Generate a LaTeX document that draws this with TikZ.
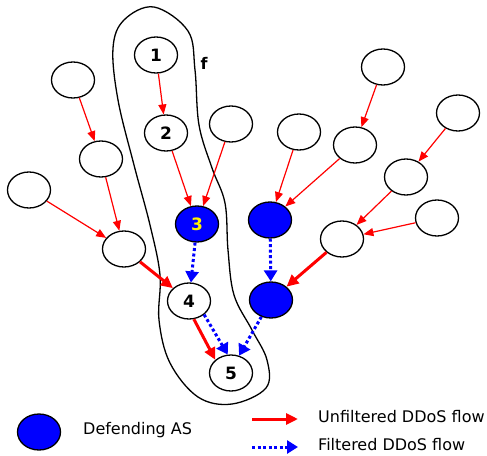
\documentclass[tikz,border=0pt]{standalone}
\usepackage{fontspec}
\setmainfont{DejaVu Sans}
\usetikzlibrary{shapes.geometric,arrows.meta}
\begin{document}
\begin{tikzpicture}[x=1pt,y=-1pt,
  as/.style={draw=black,line width=1.3pt,ellipse,inner sep=0pt,minimum width=43pt,minimum height=36pt,fill=white,font=\fontsize{17}{17}\selectfont\bfseries},
  defas/.style={as,fill=blue},
  redthin/.style={draw=red,line width=1.2pt,-{Triangle[length=10pt,width=8pt]}},
  redthick/.style={draw=red,line width=3pt,-{Triangle[length=12pt,width=11pt]}},
  bluedot/.style={draw=blue,line width=3pt,dash pattern=on 3pt off 2.5pt,-{Triangle[length=11pt,width=13pt]}},
  lbl/.style={anchor=west,font=\fontsize{16}{19}\selectfont,inner sep=0pt}]
\useasboundingbox (0,0) rectangle (487,455);
% enclosure f
\draw[line width=1.3pt] plot[smooth cycle,tension=0.6] coordinates {
 (154,7) (188,31) (195,70) (199,125) (212,168) (225,203) (228,250) (234,295)
 (252,330) (267,360) (266,388) (232,404) (198,397) (170,363) (159,320)
 (160,275) (150,225) (134,165) (118,100) (113,48) (124,20)};
\node[font=\fontsize{16}{16}\selectfont\bfseries] (flabel) at (204,63) {f};
% nodes
\node[as] (n1) at (156,55) {1};
\node[as] (n2) at (166,133) {2};
\node[as] (tm) at (231,124) {};
\node[defas,text=yellow] (n3) at (197,224) {3};
\node[as] (n4) at (189,301) {4};
\node[as] (n5) at (231,373) {5};
\node[as] (tl) at (73,80) {};
\node[as] (ml) at (101,159) {};
\node[as] (fl) at (29,190) {};
\node[as] (cl) at (124,249) {};
\node[as] (r1) at (299,132) {};
\node[defas] (bt) at (270,220) {};
\node[defas] (bl) at (271,300) {};
\node[as] (r2) at (383,67) {};
\node[as] (r3) at (355,145) {};
\node[as] (r4) at (458,113) {};
\node[as] (r5) at (406,177) {};
\node[as] (r6) at (437,218) {};
\node[as] (r7) at (342,239) {};
% edges
\draw[redthin] (tl) -- (ml);
\draw[redthin] (ml) -- (cl);
\draw[redthin] (fl) -- (cl);
\draw[redthick] (cl) -- (n4);
\draw[redthin] (n1) -- (n2);
\draw[redthin] (n2) -- (n3);
\draw[redthin] (tm) -- (n3);
\draw[bluedot] (n3) -- (n4);
\draw[redthick] (n4.-75) -- (n5.140);
\draw[bluedot] (n4.-42) -- (n5.100);
\draw[redthin] (r1) -- (bt);
\draw[redthin] (r3) -- (bt);
\draw[redthin] (r2) -- (r3);
\draw[redthin] (r4) -- (r5);
\draw[redthin] (r5) -- (r7);
\draw[redthin] (r6) -- (r7);
\draw[redthick] (r7) -- (bl);
\draw[bluedot] (bt) -- (bl);
\draw[bluedot] (bl) -- (n5.65);
% legend
\node[defas] (lg) at (39,432) {};
\node[lbl] (lgt) at (83,430) {Defending AS};
\coordinate (ra) at (252,419);
\coordinate (rb) at (298,419);
\draw[redthick] (ra) -- (rb);
\node[lbl] (rt) at (318,417) {Unfiltered DDoS flow};
\coordinate (ba) at (252,447);
\coordinate (bb) at (298,447);
\draw[bluedot] (ba) -- (bb);
\node[lbl] (bt2) at (318,445) {Filtered DDoS flow};
\end{tikzpicture}
\end{document}
